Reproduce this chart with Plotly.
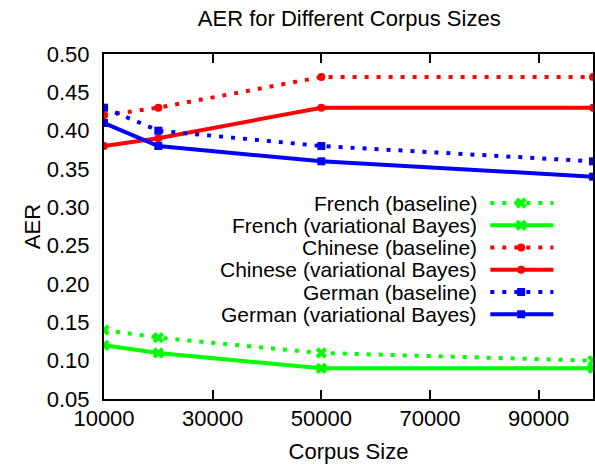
import plotly.graph_objects as go

# ---- data ----
corpus_sizes = [10000, 20000, 50000, 100000]
french_baseline = [0.14, 0.13, 0.11, 0.10]
french_vb = [0.12, 0.11, 0.09, 0.09]
chinese_baseline = [0.42, 0.43, 0.47, 0.47]
chinese_vb = [0.38, 0.39, 0.43, 0.43]
german_baseline = [0.43, 0.40, 0.38, 0.36]
german_vb = [0.41, 0.38, 0.36, 0.34]

series_names = [
    "French (baseline)",
    "French (variational Bayes)",
    "Chinese (baseline)",
    "Chinese (variational Bayes)",
    "German (baseline)",
    "German (variational Bayes)",
]
series_values = [french_baseline, french_vb, chinese_baseline, chinese_vb,
                 german_baseline, german_vb]

x_tick_vals = [10000, 30000, 50000, 70000, 90000]
y_tick_vals = [0.05, 0.10, 0.15, 0.20, 0.25, 0.30, 0.35, 0.40, 0.45, 0.50]

# ---- styles ----
FONT = "Liberation Sans, Arial, Helvetica, sans-serif"
FS = 22
LEG_FS = 21
DOT = "4px,8px"
styles = [
    dict(color="#00ff00", dash=DOT, symbol="x", size=10),
    dict(color="#00ff00", dash="solid", symbol="x", size=10),
    dict(color="#ff0000", dash=DOT, symbol="circle", size=8),
    dict(color="#ff0000", dash="solid", symbol="circle", size=8),
    dict(color="#0000ff", dash=DOT, symbol="square", size=8),
    dict(color="#0000ff", dash="solid", symbol="square", size=8),
]

fig = go.Figure()
for name, vals, st in zip(series_names, series_values, styles):
    fig.add_trace(go.Scatter(
        x=corpus_sizes, y=vals, name=name, mode="lines+markers",
        line=dict(color=st["color"], width=4, dash=st["dash"]),
        marker=dict(color=st["color"], symbol=st["symbol"], size=st["size"],
                    line=dict(width=0)),
        showlegend=False,
    ))

# ---- custom legend (text right-aligned, sample on the right) ----
leg_x0, leg_xm, leg_x1 = 0.790, 0.853, 0.919
leg_text_x = 0.766
leg_y_top, leg_dy = 0.568, 0.0645
for i, (name, st) in enumerate(zip(series_names, styles)):
    yy = leg_y_top - i * leg_dy
    fig.add_trace(go.Scatter(
        x=[leg_x0, leg_x1], y=[yy, yy], mode="lines",
        line=dict(color=st["color"], width=4, dash=st["dash"]),
        xaxis="x2", yaxis="y2", showlegend=False, hoverinfo="skip",
    ))
    fig.add_trace(go.Scatter(
        x=[leg_xm], y=[yy], mode="markers",
        marker=dict(color=st["color"], symbol=st["symbol"], size=st["size"],
                    line=dict(width=0)),
        xaxis="x2", yaxis="y2", showlegend=False, hoverinfo="skip",
    ))
    fig.add_annotation(
        x=leg_text_x, y=yy, xref="paper", yref="paper", text=name,
        showarrow=False, xanchor="right", yanchor="middle",
        font=dict(family=FONT, size=LEG_FS, color="black"),
    )

axis_common = dict(
    showline=True, linecolor="black", linewidth=2, mirror="ticks",
    ticks="inside", ticklen=9, tickwidth=1.5, tickcolor="black",
    showgrid=False, zeroline=False,
    tickfont=dict(family=FONT, size=FS, color="black"),
)

fig.update_layout(
    width=595, height=464,
    margin=dict(l=104, r=0, t=54, b=65),
    paper_bgcolor="white", plot_bgcolor="white",
    font=dict(family=FONT, size=FS, color="black"),
    title=dict(text="AER for Different Corpus Sizes", x=0.587, xanchor="center",
               y=0.96, yanchor="middle",
               font=dict(family=FONT, size=FS, color="black")),
    xaxis=dict(range=[10000, 100000], tickvals=x_tick_vals,
               ticktext=[str(v) for v in x_tick_vals],
               ticklabelstandoff=-1,
               title=dict(text="Corpus Size", standoff=13,
                          font=dict(family=FONT, size=FS, color="black")),
               **axis_common),
    # primary y axis: frame + labels, pushed out by invisible outside ticks
    yaxis=dict(range=[0.05, 0.50], tickvals=y_tick_vals,
               ticktext=[f"{v:.2f}" for v in y_tick_vals],
               showline=True, linecolor="black", linewidth=2, mirror=True,
               ticks="outside", ticklen=8, tickcolor="rgba(0,0,0,0)",
               showgrid=False, zeroline=False,
               tickfont=dict(family=FONT, size=FS, color="black"),
               title=dict(text="AER", standoff=0,
                          font=dict(family=FONT, size=FS, color="black"))),
    # overlay y axis: inward ticks on both sides
    yaxis3=dict(overlaying="y", range=[0.05, 0.50], tickvals=y_tick_vals,
                showticklabels=False, showline=False, mirror="ticks",
                ticks="inside", ticklen=9, tickwidth=1.5, tickcolor="black",
                showgrid=False, zeroline=False),
    xaxis2=dict(overlaying="x", range=[0, 1], visible=False),
    yaxis2=dict(overlaying="y", range=[0, 1], visible=False),
    showlegend=False,
)

fig.write_html(
    "out.html",
    config={"displayModeBar": False},
    post_script="document.body.style.margin='0';document.body.style.padding='0';"
                "document.documentElement.style.overflow='hidden';",
)
